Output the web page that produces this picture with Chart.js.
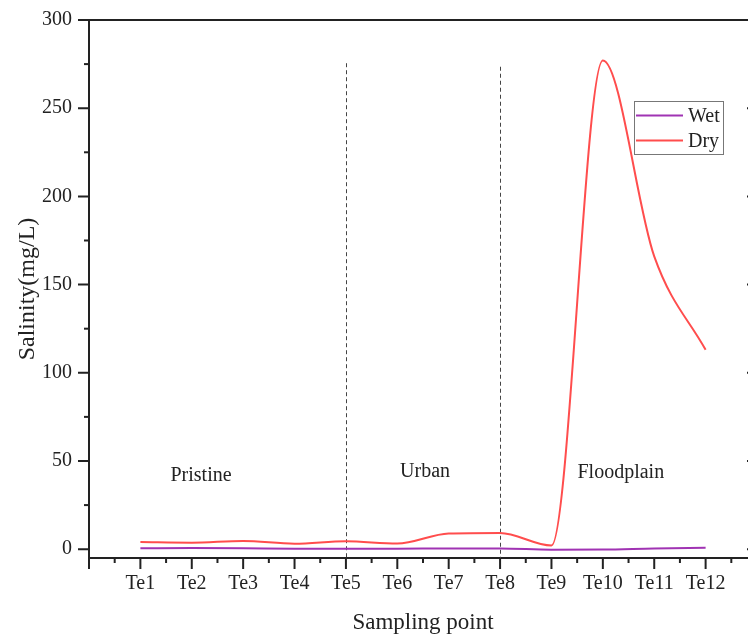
<!DOCTYPE html>
<html>
<head>
<meta charset="utf-8">
<script src="https://cdn.jsdelivr.net/npm/chart.js@4.4.1/dist/chart.umd.min.js"></script>
<style>
html,body{margin:0;padding:0;background:#fff;overflow:hidden;width:748px;height:637px;}
#wrap{width:762px;height:637px;position:relative;}
</style>
</head>
<body>
<div id="wrap"><canvas id="c"></canvas></div>
<script>
// ---- data ----
const categories = ['Te1','Te2','Te3','Te4','Te5','Te6','Te7','Te8','Te9','Te10','Te11','Te12'];
const wetValues = [0.5, 0.6, 0.5, 0.3, 0.3, 0.3, 0.4, 0.4, -0.3, -0.2, 0.4, 0.8];
const dryValues = [4.0, 3.7, 4.7, 3.1, 4.5, 3.2, 8.9, 9.2, 2.1, 277, 166, 113];
const yTickValues = [0, 50, 100, 150, 200, 250, 300];
const regionLabels = ['Pristine', 'Urban', 'Floodplain'];
const dividerAt = [5, 8];

const FONT = '"Liberation Serif","Times New Roman",serif';
const INK = '#222';

const framePlugin = {
  id: 'frame',
  beforeDatasetsDraw(chart) {
    const {ctx} = chart;
    const xs = chart.scales.x, ys = chart.scales.y;
    const tops = [275.5, 273.5];
    ctx.save();
    ctx.strokeStyle = '#444';
    ctx.lineWidth = 1;
    ctx.setLineDash([4, 3]);
    dividerAt.forEach((d, i) => {
      const px = Math.round(xs.getPixelForValue(d)) + 0.5;
      ctx.beginPath();
      ctx.moveTo(px, ys.getPixelForValue(tops[i]));
      ctx.lineTo(px, ys.getPixelForValue(-5));
      ctx.stroke();
    });
    ctx.setLineDash([]);
    // region labels
    const pos = [[2.18, 38.6], [6.54, 40.8], [10.35, 40.3]];
    ctx.fillStyle = INK;
    ctx.font = '20px ' + FONT;
    ctx.textAlign = 'center';
    ctx.textBaseline = 'alphabetic';
    regionLabels.forEach((t, i) => {
      ctx.fillText(t, xs.getPixelForValue(pos[i][0]), ys.getPixelForValue(pos[i][1]));
    });
    ctx.restore();
  },
  afterDraw(chart) {
    const {ctx, chartArea: a} = chart;
    const xs = chart.scales.x, ys = chart.scales.y;
    ctx.save();
    ctx.strokeStyle = INK;
    ctx.lineWidth = 2;
    // top and right frame
    ctx.beginPath();
    ctx.moveTo(a.left - 1, a.top);
    ctx.lineTo(a.right, a.top);
    ctx.moveTo(a.right, a.top);
    ctx.lineTo(a.right, a.bottom);
    ctx.stroke();
    // x ticks (major at integers, minor at halves)
    for (let v = 0; v <= 13; v += 0.5) {
      const px = xs.getPixelForValue(v);
      const len = Number.isInteger(v) ? 11 : 5;
      ctx.beginPath();
      ctx.moveTo(px, a.bottom);
      ctx.lineTo(px, a.bottom + len);
      ctx.stroke();
    }
    // y ticks (major every 50, minor every 25)
    for (let v = 0; v <= 300; v += 25) {
      const py = ys.getPixelForValue(v);
      const major = v % 50 === 0;
      ctx.beginPath();
      ctx.moveTo(a.left, py);
      ctx.lineTo(a.left - (major ? 11 : 5), py);
      if (major) {
        ctx.moveTo(a.right, py);
        ctx.lineTo(a.right - 10, py);
      }
      ctx.stroke();
    }
    // legend
    const bx = 634.5, by = 101.5, bw = 89, bh = 53;
    ctx.lineWidth = 1;
    ctx.strokeStyle = '#777';
    ctx.fillStyle = '#fff';
    ctx.fillRect(bx, by, bw, bh);
    ctx.strokeRect(bx, by, bw, bh);
    ctx.font = '20px ' + FONT;
    ctx.textAlign = 'left';
    ctx.textBaseline = 'middle';
    chart.data.datasets.forEach((ds, i) => {
      const ly = 115.5 + i * 25;
      ctx.strokeStyle = ds.borderColor;
      ctx.lineWidth = 2;
      ctx.beginPath();
      ctx.moveTo(636, ly);
      ctx.lineTo(683, ly);
      ctx.stroke();
      ctx.fillStyle = INK;
      ctx.fillText(ds.label, 688, ly + 1);
    });
    ctx.restore();
  }
};

new Chart(document.getElementById('c'), {
  type: 'line',
  data: {
    datasets: [
      {
        label: 'Wet',
        data: wetValues.map((v, i) => ({x: i + 1, y: v})),
        borderColor: '#a033b3',
        borderWidth: 2,
        pointRadius: 0,
        fill: false,
        cubicInterpolationMode: 'monotone'
      },
      {
        label: 'Dry',
        data: dryValues.map((v, i) => ({x: i + 1, y: v})),
        borderColor: '#ff4d4d',
        borderWidth: 2,
        pointRadius: 0,
        fill: false,
        cubicInterpolationMode: 'monotone'
      }
    ]
  },
  options: {
    responsive: true,
    maintainAspectRatio: false,
    animation: false,
    layout: {padding: {top: 20, right: 5, left: 0, bottom: 0}},
    plugins: {legend: {display: false}, tooltip: {enabled: false}},
    scales: {
      x: {
        type: 'linear',
        min: 0,
        max: 13,
        afterBuildTicks: s => { s.ticks = categories.map((c, i) => ({value: i + 1})); },
        ticks: {
          callback: v => categories[v - 1] || '',
          font: {family: FONT, size: 20},
          color: INK,
          padding: 14,
          maxRotation: 0,
          autoSkip: false
        },
        grid: {display: false, drawTicks: false},
        border: {display: true, color: INK, width: 2},
        title: {display: true, text: 'Sampling point', font: {family: FONT, size: 23}, color: INK, padding: {top: 0, bottom: 0}},
        afterFit: s => { s.height = 79; }
      },
      y: {
        min: -5,
        max: 300,
        afterBuildTicks: s => { s.ticks = yTickValues.map(v => ({value: v})); },
        ticks: {
          font: {family: FONT, size: 20},
          color: INK,
          padding: 17
        },
        grid: {display: false, drawTicks: false},
        border: {display: true, color: INK, width: 2},
        title: {display: true, text: 'Salinity(mg/L)', font: {family: FONT, size: 24}, color: INK, padding: {top: 13, bottom: 0}},
        afterFit: s => { s.width = 89; s.paddingTop = 0; s.paddingBottom = 0; }
      }
    }
  },
  plugins: [framePlugin]
});
</script>
</body>
</html>
